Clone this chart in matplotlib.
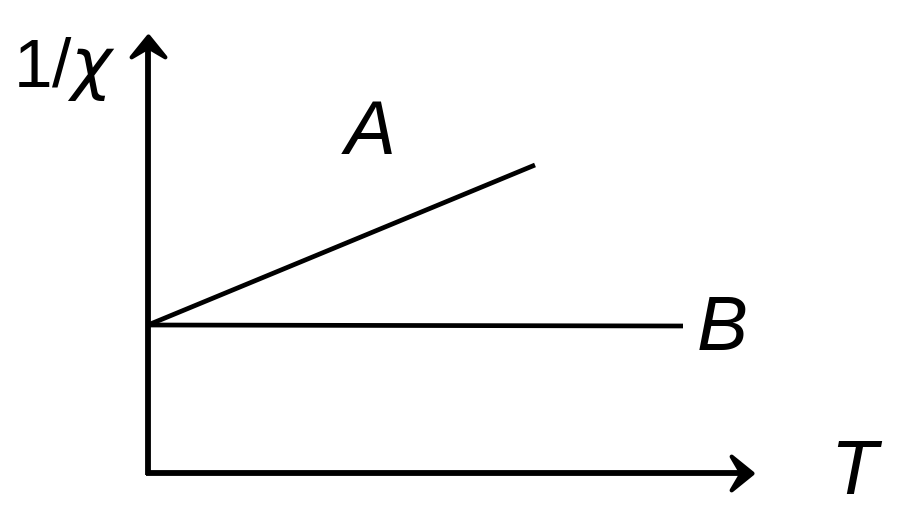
import matplotlib
matplotlib.use("Agg")
import matplotlib.pyplot as plt
from matplotlib.path import Path

# lines, in arbitrary units (origin at the axes corner)
T_A = [0.0, 3.87]
inv_chi_A = [1.48, 3.08]
T_B = [0.0, 5.35]
inv_chi_B = [1.48, 1.47]

axis_T_end = 6.07
axis_chi_end = 4.40

fig = plt.figure(figsize=(9, 5.26), dpi=100)
ax = fig.add_axes([0, 0, 1, 1])
ax.set_xlim(-1.48, 7.52)
ax.set_ylim(-0.53, 4.73)
ax.axis("off")

# swept back arrow heads, tip at the marker origin
codes = [Path.MOVETO, Path.LINETO, Path.LINETO, Path.LINETO, Path.CLOSEPOLY]
head_r = Path([(0, 0), (-21, 17), (-11, 0), (-21, -17), (0, 0)], codes)
head_u = Path([(0, 0), (17, -21), (0, -11), (-17, -21), (0, 0)], codes)

ax.plot([-0.02, axis_T_end - 0.1], [0, 0], color="black", lw=4.2,
        solid_capstyle="butt")
ax.plot([0, 0], [-0.02, axis_chi_end - 0.1], color="black", lw=4.2,
        solid_capstyle="butt")
for x, y, m in [(axis_T_end - 0.03, 0, head_r), (0, axis_chi_end - 0.03, head_u)]:
    ax.plot([x], [y], marker=m, markersize=30, color="black",
            markeredgewidth=3, markeredgecolor="black")

ax.plot(T_A, inv_chi_A, color="black", lw=3.4, solid_capstyle="butt")
ax.plot(T_B, inv_chi_B, color="black", lw=3.4, solid_capstyle="butt")

fnt = dict(family="Liberation Sans", fontsize=55, style="italic",
           ha="center", va="center")
ax.text(2.22, 3.38, "A", **fnt)
ax.text(5.74, 1.42, "B", **fnt)
ax.text(7.05, -0.02, "T", **fnt)
ax.text(-0.83, 4.04, r"1/$\chi$", family="Liberation Sans", fontsize=50,
        ha="center", va="center")

fig.savefig("out.png", dpi=100)
